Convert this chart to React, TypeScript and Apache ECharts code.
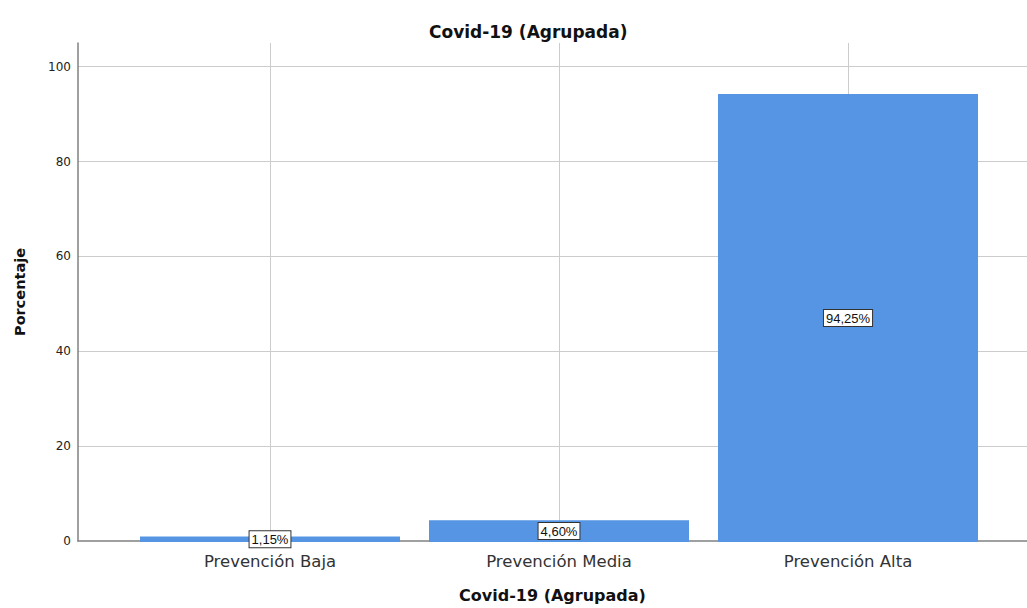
import React, { useEffect, useRef } from "react";
import * as echarts from "echarts";

const categories = ["Prevención Baja", "Prevención Media", "Prevención Alta"];
const percentages = [1.15, 4.6, 94.25];
const valueLabels = ["1,15%", "4,60%", "94,25%"];
const yTicks = { min: 0, max: 105, interval: 20 };

const FONT = "'DejaVu Sans', sans-serif";
const LFONT = "'Liberation Sans', Arial, sans-serif";

export default function App() {
  const ref = useRef<HTMLDivElement>(null);
  useEffect(() => {
    const chart = echarts.init(ref.current!, null, { renderer: "svg" });
    chart.setOption({
      animation: false,
      backgroundColor: "#ffffff",
      textStyle: { fontFamily: FONT },
      title: {
        text: "Covid-19 (Agrupada)",
        left: 424,
        top: 18,
        textStyle: { fontFamily: FONT, fontSize: 17, fontWeight: "bold", color: "#111" },
      },
      grid: [
        { left: 78, right: 0, top: 43, bottom: 66 },
        { left: 125.5, right: 34.5, top: 43, bottom: 66 },
      ],
      xAxis: [
        {
          type: "category",
          gridIndex: 0,
          data: [""],
          axisLine: { show: true, lineStyle: { color: "#808080", width: 1.5 } },
          axisTick: { show: false },
          axisLabel: { show: false },
          splitLine: { show: false },
          name: "Covid-19 (Agrupada)",
          nameLocation: "middle",
          nameGap: 46,
          nameTextStyle: { fontFamily: FONT, fontSize: 16, fontWeight: "bold", color: "#111" },
        },
        {
          type: "category",
          gridIndex: 1,
          data: categories,
          axisLine: { show: false },
          axisTick: { show: false },
          axisLabel: { fontFamily: FONT, fontSize: 16.5, color: "#333", margin: 11 },
          splitLine: { show: false },
        },
      ],
      yAxis: [
        {
          type: "value",
          gridIndex: 0,
          min: yTicks.min,
          max: yTicks.max,
          interval: yTicks.interval,
          axisLine: { show: true, lineStyle: { color: "#808080", width: 1.5 } },
          axisTick: { show: false },
          axisLabel: { fontFamily: FONT, fontSize: 12, color: "#222", margin: 7, showMaxLabel: false },
          splitLine: { show: true, showMinLine: false, showMaxLine: false, lineStyle: { color: "#cccccc", width: 1 } },
          name: "Porcentaje",
          nameLocation: "middle",
          nameGap: 51,
          nameTextStyle: { fontFamily: FONT, fontSize: 14.5, fontWeight: "bold", color: "#111" },
        },
        {
          type: "value",
          gridIndex: 1,
          min: yTicks.min,
          max: yTicks.max,
          interval: yTicks.interval,
          show: false,
          splitLine: { show: false },
        },
      ],
      series: [
        {
          type: "line",
          xAxisIndex: 1,
          yAxisIndex: 1,
          data: [],
          z: 1,
          silent: true,
          markLine: {
            z: 1,
            silent: true,
            symbol: ["none", "none"],
            label: { show: false },
            lineStyle: { color: "#cccccc", width: 1, type: "solid" },
            data: categories.map((c) => ({ xAxis: c })),
          },
        },
        {
          type: "bar",
          xAxisIndex: 1,
          yAxisIndex: 1,
          z: 3,
          barWidth: 260,
          data: percentages,
          itemStyle: { color: "#5595e3" },
          label: {
            show: true,
            position: "inside",
            formatter: (p: any) => valueLabels[p.dataIndex],
            fontFamily: LFONT,
            fontSize: 13,
            color: "#111",
            backgroundColor: "#ffffff",
            borderColor: "#333",
            borderWidth: 1,
            padding: [2, 2, 1, 2],
          },
        },
      ],
    });
    return () => chart.dispose();
  }, []);
  return (
    <div
      ref={ref}
      style={{ position: "fixed", left: 0, top: 0, width: 1027, height: 608 }}
    />
  );
}
